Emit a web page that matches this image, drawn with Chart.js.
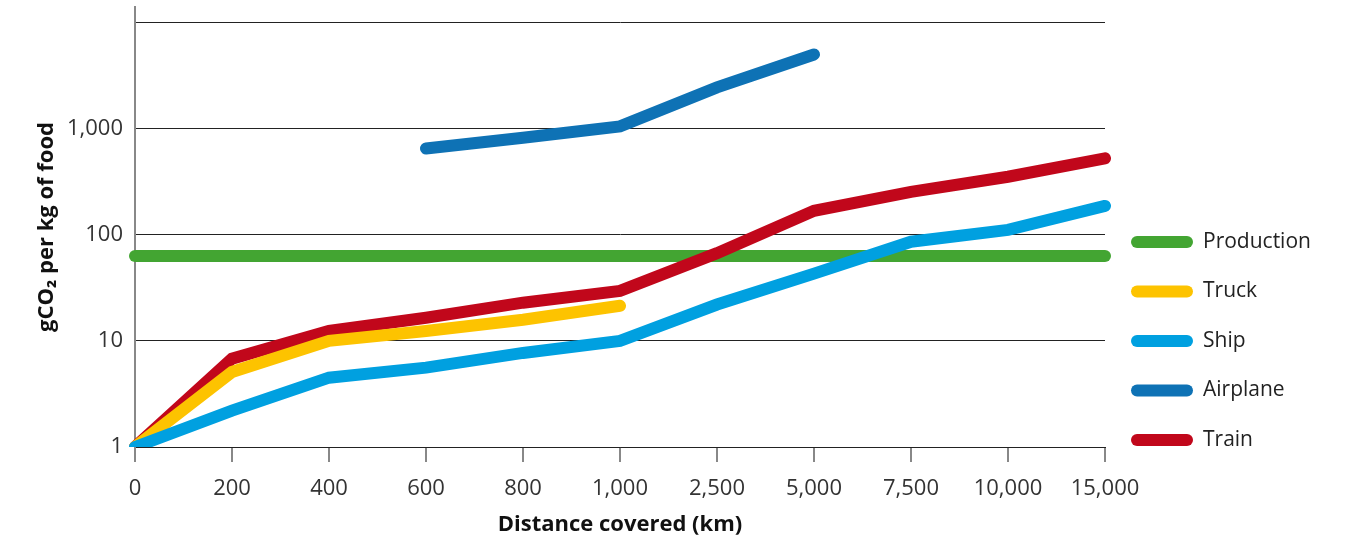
<!DOCTYPE html>
<html>
<head>
<meta charset="utf-8">
<script src="https://cdn.jsdelivr.net/npm/chart.js@4.4.0/dist/chart.umd.min.js"></script>
<style>
  html, body { margin: 0; padding: 0; background: #fff; }
  #wrap { width: 1352px; height: 544px; }
</style>
</head>
<body>
<div id="wrap"><canvas id="co2Chart" width="1352" height="544"></canvas></div>
<script>
// distance categories (km)
const distances = ['0', '200', '400', '600', '800', '1,000', '2,500', '5,000', '7,500', '10,000', '15,000'];

// gCO2 per kg of food
const production = [63, 63, 63, 63, 63, 63, 63, 63, 63, 63, 63];
const truck = [1, 5.1, 10, 12.4, 15.8, 21.4, null, null, null, null, null];
const ship = [1, 2.2, 4.5, 5.6, 7.7, 10, 22, 43, 86, 111, 187];
const airplane = [null, null, null, 650, 820, 1050, 2450, 5000, null, null, null];
const train = [1, 6.8, 12.4, 16.5, 22.9, 29.6, 67, 168, 254, 352, 525];

const yTicks = [1, 10, 100, 1000, 10000];
const yTickLabels = ['1', '10', '100', '1,000', ''];

const FONT = '"Open Sans", "DejaVu Sans", sans-serif';

// legend drawn on the right, as rounded bars
const sideLegend = {
  id: 'sideLegend',
  afterDraw(chart) {
    const ctx = chart.ctx;
    const x0 = chart.chartArea.right + 26;
    const top = chart.chartArea.top + 235;
    ctx.save();
    chart.data.datasets.forEach((ds, i) => {
      const y = top + i * 49.5;
      ctx.strokeStyle = ds.borderColor;
      ctx.lineWidth = 12;
      ctx.lineCap = 'round';
      ctx.beginPath();
      ctx.moveTo(x0 + 6, y);
      ctx.lineTo(x0 + 56, y);
      ctx.stroke();
      ctx.fillStyle = '#222';
      ctx.font = '21px ' + FONT;
      ctx.textBaseline = 'middle';
      ctx.textAlign = 'left';
      ctx.fillText(ds.label, x0 + 72, y);
    });
    ctx.restore();
  }
};

function lineSet(label, data, color, order) {
  return {
    label: label,
    data: data,
    borderColor: color,
    backgroundColor: color,
    borderWidth: 12,
    borderCapStyle: 'round',
    pointRadius: 0,
    pointHoverRadius: 0,
    tension: 0,
    order: order
  };
}

new Chart(document.getElementById('co2Chart'), {
  type: 'line',
  data: {
    labels: distances,
    datasets: [
      lineSet('Production', production, '#43a532', 5),
      lineSet('Truck', truck, '#fdc300', 3),
      lineSet('Ship', ship, '#00a0e0', 2),
      lineSet('Airplane', airplane, '#0e72b5', 1),
      lineSet('Train', train, '#c1071b', 4)
    ]
  },
  plugins: [sideLegend],
  options: {
    responsive: false,
    animation: false,
    layout: { padding: { top: 7, right: 247, bottom: 0, left: 0 } },
    plugins: {
      legend: { display: false },
      tooltip: { enabled: false }
    },
    scales: {
      x: {
        type: 'category',
        offset: false,
        grid: {
          drawOnChartArea: false,
          drawTicks: true,
          tickLength: 15,
          color: '#888',
          lineWidth: 2
        },
        border: { display: true, color: '#222', width: 1 },
        ticks: {
          color: '#333',
          padding: 14,
          maxRotation: 0,
          autoSkip: false,
          font: { family: FONT, size: 22 }
        },
        title: {
          display: true,
          text: 'Distance covered (km)',
          color: '#111',
          font: { family: FONT, size: 22, weight: 'bold' },
          padding: { top: 4, bottom: 6 }
        },
        afterFit(scale) {
          scale.height = 97;
          scale.paddingLeft = 0;
          scale.paddingRight = 0;
        }
      },
      y: {
        type: 'logarithmic',
        min: 1,
        max: 14000,
        afterBuildTicks(scale) {
          scale.ticks = yTicks.map(v => ({ value: v }));
        },
        grid: {
          drawTicks: false,
          color: '#222',
          lineWidth: 1
        },
        border: { display: true, color: '#888', width: 2 },
        ticks: {
          color: '#333',
          padding: 12,
          font: { family: FONT, size: 22 },
          callback: (value, index) => yTickLabels[index]
        },
        title: {
          display: true,
          text: 'gCO\u2082 per kg of food',
          color: '#111',
          font: { family: FONT, size: 22, weight: 'bold' },
          padding: { top: 34, bottom: 4 }
        },
        afterFit(scale) {
          scale.width = 135;
          scale.paddingTop = 0;
          scale.paddingBottom = 0;
        }
      }
    }
  }
});
</script>
</body>
</html>
